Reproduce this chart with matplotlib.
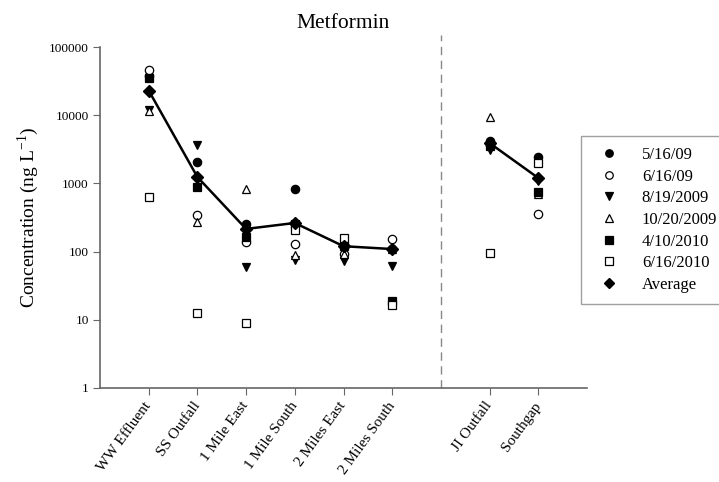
import numpy as np
import matplotlib
matplotlib.use("Agg")
import matplotlib.pyplot as plt

plt.rcParams['font.family'] = ['Liberation Serif', 'DejaVu Serif']
plt.rcParams['mathtext.fontset'] = 'custom'
plt.rcParams['mathtext.rm'] = 'Liberation Serif'

sites = ["WW Effluent", "SS Outfall", "1 Mile East", "1 Mile South",
         "2 Miles East", "2 Miles South", "JI Outfall", "Southgap"]
site_pos = [1, 2, 3, 4, 5, 6, 8, 9]
divider_pos = 7

d_5_16_09 = [38000, 2060, 250, 830, 125, 108, 4200, 2450]
d_6_16_09 = [46000, 340, 140, 130, 92, 155, 3700, 355]
d_8_19_2009 = [12000, 3600, 59, 75, 73, 62, 3100, 1100]
d_10_20_2009 = [11500, 275, 830, 89, 92, 110, 9400, 700]
d_4_10_2010 = [35000, 890, 163, 250, 120, 19, 3500, 760]
d_6_16_2010 = [630, 12.6, 9, 207, 160, 16.5, 95, 2000]
average = [23000, 1240, 215, 263, 120, 109, 3900, 1200]

series = [
    ("5/16/09", d_5_16_09, 'o', 'black'),
    ("6/16/09", d_6_16_09, 'o', 'white'),
    ("8/19/2009", d_8_19_2009, 'v', 'black'),
    ("10/20/2009", d_10_20_2009, '^', 'white'),
    ("4/10/2010", d_4_10_2010, 's', 'black'),
    ("6/16/2010", d_6_16_2010, 's', 'white'),
]

W, H = 719, 482
fig = plt.figure(figsize=(W / 100, H / 100), dpi=100)
ax = fig.add_axes([100 / W, 1 - 388 / H, (587 - 100) / W, (388 - 47) / H])

handles = []
for label, vals, mk, fc in series:
    h, = ax.plot(site_pos, vals, linestyle='none', marker=mk, markersize=6,
                 markerfacecolor=fc, markeredgecolor='black', markeredgewidth=0.9,
                 label=label, zorder=3)
    handles.append(h)

ax.plot(site_pos[:6], average[:6], color='black', linewidth=1.8, zorder=4)
ax.plot(site_pos[6:], average[6:], color='black', linewidth=1.8, zorder=4)
h, = ax.plot(site_pos, average, linestyle='none', marker='D', markersize=6,
             markerfacecolor='black', markeredgecolor='black', label='Average', zorder=5)
handles.append(h)

ax.axvline(divider_pos, ymin=0, ymax=1.035, color='#888888', linestyle=(0, (6, 4)),
           linewidth=1.0, clip_on=False)

ax.set_yscale('log')
ax.set_ylim(1, 100000)
ax.set_xlim(0, 10)
ax.set_yticks([1, 10, 100, 1000, 10000, 100000])
ax.set_yticklabels(["1", "10", "100", "1000", "10000", "100000"])
ax.yaxis.set_minor_locator(matplotlib.ticker.NullLocator())
ax.set_xticks(site_pos)
ax.set_xticklabels(sites, rotation=54, ha='right', va='center', rotation_mode='anchor',
                   fontsize=11)
ax.tick_params(axis='y', labelsize=9.5, length=5, color='#666666', pad=3)
ax.tick_params(axis='x', length=5, color='#666666', pad=6)

for s in ['top', 'right']:
    ax.spines[s].set_visible(False)
for s in ['left', 'bottom']:
    ax.spines[s].set_color('#666666')
    ax.spines[s].set_linewidth(1.2)

ax.set_ylabel("Concentration (ng L$^{-1}$)", fontsize=14, labelpad=6)
ax.set_title("Metformin", fontsize=15.5, pad=14)

leg = fig.legend(handles=handles, loc='upper left',
                 bbox_to_anchor=(581 / W, 1 - 136 / H), bbox_transform=fig.transFigure,
                 borderaxespad=0, fancybox=False, edgecolor='#888888', fontsize=12,
                 handletextpad=1.0, labelspacing=0.34, borderpad=0.65, handlelength=2.0,
                 markerscale=0.9)
leg.get_frame().set_linewidth(1.0)

fig.savefig("out.png", dpi=100)
